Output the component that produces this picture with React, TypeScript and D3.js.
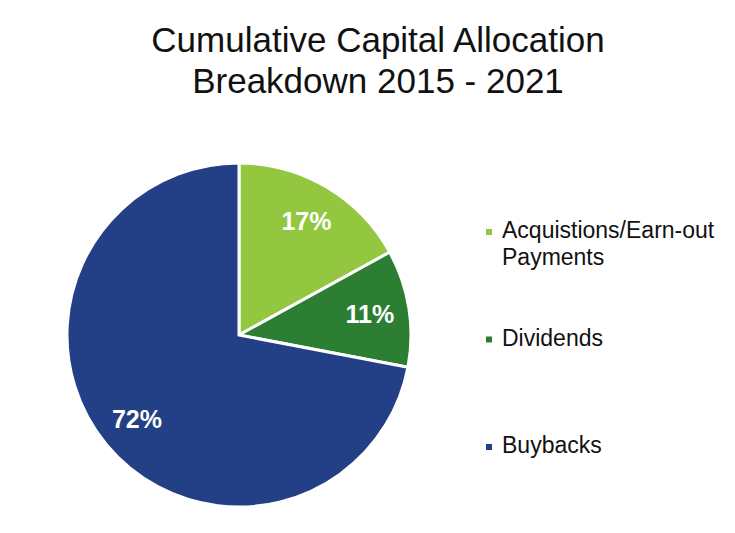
import React from 'react';
import * as d3 from 'd3';

const categories = ['Acquistions/Earn-out Payments', 'Dividends', 'Buybacks'];
const legendLines = [['Acquistions/Earn-out', 'Payments'], ['Dividends'], ['Buybacks']];
const shares = [17, 11, 72];
const colors = ['#92C73F', '#2C7E33', '#233F86'];
const titleLines = ['Cumulative Capital Allocation', 'Breakdown 2015 - 2021'];

const WIDTH = 735;
const HEIGHT = 533;
const FONT = '"Liberation Sans", Arial, Helvetica, sans-serif';

const App: React.FC = () => {
  const cx = 239;
  const cy = 335;
  const radius = 172;

  const pie = d3
    .pie<number>()
    .sort(null)
    .value((d) => d);
  const arcs = pie(shares);

  const arc = d3.arc<d3.PieArcDatum<number>>().innerRadius(0).outerRadius(radius);
  const labelArc = d3
    .arc<d3.PieArcDatum<number>>()
    .innerRadius(radius * 0.77)
    .outerRadius(radius * 0.77);

  const color = d3.scaleOrdinal<string>().domain(categories).range(colors);
  const legendY = d3.scalePoint<string>().domain(categories).range([232, 447]);

  return (
    <svg
      width={WIDTH}
      height={HEIGHT}
      style={{ position: 'absolute', left: 0, top: 0, background: '#fff' }}
      fontFamily={FONT}
    >
      <rect width={WIDTH} height={HEIGHT} fill="#fff" />

      {/* title */}
      {titleLines.map((line, i) => (
        <text
          key={line}
          x={378}
          y={52 + i * 41}
          textAnchor="middle"
          fontSize={35}
          fill="#111"
        >
          {line}
        </text>
      ))}

      {/* pie */}
      <g transform={`translate(${cx},${cy})`}>
        {arcs.map((a, i) => (
          <path
            key={categories[i]}
            d={arc(a) || ''}
            fill={color(categories[i])}
            stroke="#fff"
            strokeWidth={3}
            strokeLinejoin="miter"
          />
        ))}
        {arcs.map((a, i) => {
          const [lx, ly] = labelArc.centroid(a);
          return (
            <text
              key={'lbl' + i}
              x={lx}
              y={ly}
              dy="0.36em"
              textAnchor="middle"
              fontSize={25}
              fontWeight="bold"
              fill="#fff"
            >
              {`${a.data}%`}
            </text>
          );
        })}
      </g>

      {/* legend */}
      {categories.map((c, i) => {
        const y = legendY(c) || 0;
        return (
          <g key={'leg' + c}>
            <rect x={486} y={y - 3} width={6} height={6} fill={color(c)} />
            {legendLines[i].map((t, j) => (
              <text key={t} x={502} y={y + 6 + j * 27} fontSize={23} fill="#111">
                {t}
              </text>
            ))}
          </g>
        );
      })}
    </svg>
  );
};

export default App;
